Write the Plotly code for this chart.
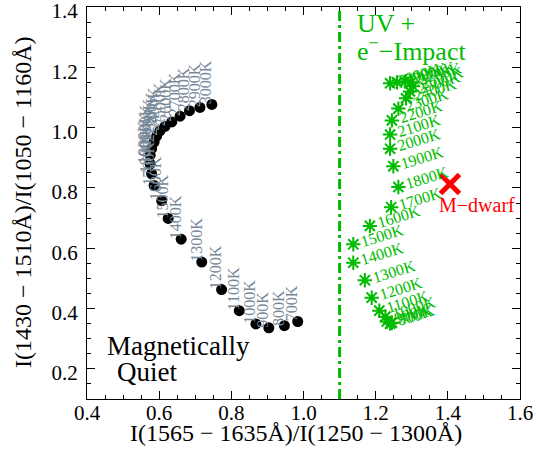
import plotly.graph_objects as go

# ---------------- data ----------------
temps = [700, 800, 900, 1000, 1100, 1200, 1300, 1400, 1500, 1600, 1700, 1800,
         1900, 2000, 2100, 2200, 2300, 2400, 2500, 2600, 2700, 2800, 2900, 3000]
temp_labels = [f"{t}K" for t in temps]

quiet_x = [0.984, 0.947, 0.904, 0.868, 0.822, 0.773, 0.718, 0.661, 0.625, 0.607,
           0.586, 0.579, 0.575, 0.575, 0.579, 0.586, 0.593, 0.602, 0.616, 0.635,
           0.658, 0.684, 0.713, 0.746]
quiet_y = [0.357, 0.343, 0.336, 0.349, 0.393, 0.463, 0.554, 0.630, 0.699, 0.758,
           0.808, 0.847, 0.880, 0.908, 0.930, 0.952, 0.972, 0.989, 1.004, 1.019,
           1.038, 1.056, 1.067, 1.077]

uv_x = [1.245, 1.240, 1.231, 1.227, 1.210, 1.189, 1.170, 1.138, 1.138, 1.184,
        1.243, 1.263, 1.249, 1.240, 1.240, 1.245, 1.263, 1.284, 1.295, 1.304,
        1.298, 1.281, 1.259, 1.240]
uv_y = [0.353, 0.350, 0.357, 0.373, 0.393, 0.436, 0.494, 0.552, 0.613, 0.674,
        0.736, 0.803, 0.872, 0.930, 0.977, 1.024, 1.063, 1.097, 1.120, 1.137,
        1.150, 1.153, 1.150, 1.147]

mdwarf_x = [1.406]
mdwarf_y = [0.813]
mdwarf_label = "M−dwarf"

boundary_x = 1.1
x_range = [0.4, 1.6000001]
y_range = [0.1, 1.4000001]

x_title = "I(1565 − 1635Å)/I(1250 − 1300Å)"
y_title = "I(1430 − 1510Å)/I(1050 − 1160Å)"

GREEN = "#00bb00"
GRAY = "#778899"
FONT = "Times New Roman, Liberation Serif, DejaVu Serif, serif"

fig = go.Figure()

fig.add_trace(go.Scatter(
    x=quiet_x, y=quiet_y, mode="markers",
    marker=dict(color="black", size=11, line=dict(width=0)),
    showlegend=False, hoverinfo="skip"))

fig.add_trace(go.Scatter(
    x=uv_x, y=uv_y, mode="markers",
    marker=dict(symbol="asterisk", size=12, color=GREEN,
                line=dict(color=GREEN, width=2)),
    showlegend=False, hoverinfo="skip"))

fig.add_trace(go.Scatter(
    x=mdwarf_x, y=mdwarf_y, mode="markers",
    marker=dict(symbol="x-thin", size=19, color="red",
                line=dict(color="red", width=5)),
    showlegend=False, hoverinfo="skip"))

annotations = []
# gray rotated labels (magnetically quiet)
for xv, yv, lab in zip(quiet_x, quiet_y, temp_labels):
    annotations.append(dict(
        x=xv, y=yv, xref="x", yref="y", text=lab, showarrow=False,
        textangle=-90, xanchor="center", yanchor="bottom", xshift=-6, yshift=-2,
        font=dict(family=FONT, size=16, color=GRAY)))
# green slanted labels
for xv, yv, lab in zip(uv_x, uv_y, temp_labels):
    annotations.append(dict(
        x=xv, y=yv, xref="x", yref="y", text=lab, showarrow=False,
        textangle=-17, xanchor="left", yanchor="bottom", xshift=3, yshift=-8,
        font=dict(family=FONT, size=16, color=GREEN)))

annotations += [
    dict(x=mdwarf_x[0], y=mdwarf_y[0], xref="x", yref="y", text=mdwarf_label,
         showarrow=False, xanchor="center", yanchor="middle", xshift=27, yshift=-21,
         font=dict(family=FONT, size=20, color="red")),
    dict(x=1.143, y=1.345, xref="x", yref="y", text="UV +", showarrow=False,
         xanchor="left", yanchor="middle",
         font=dict(family=FONT, size=26, color=GREEN)),
    dict(x=1.143, y=1.258, xref="x", yref="y", text="e<sup>−</sup>−Impact",
         showarrow=False, xanchor="left", yanchor="middle",
         font=dict(family=FONT, size=26, color=GREEN)),
    dict(x=0.45, y=0.275, xref="x", yref="y", text="Magnetically", showarrow=False,
         xanchor="left", yanchor="middle",
         font=dict(family=FONT, size=27, color="black")),
    dict(x=0.478, y=0.19, xref="x", yref="y", text="Quiet", showarrow=False,
         xanchor="left", yanchor="middle",
         font=dict(family=FONT, size=27, color="black")),
    dict(x=0.5, y=0, xref="paper", yref="paper", text=x_title, showarrow=False,
         xanchor="center", yanchor="middle", yshift=-34, xshift=-8,
         font=dict(family=FONT, size=24, color="black")),
    dict(x=0, y=0.5, xref="paper", yref="paper", text=y_title, showarrow=False,
         textangle=-90, xanchor="center", yanchor="middle", xshift=-64,
         font=dict(family=FONT, size=24, color="black")),
]

fig.add_shape(type="line", x0=boundary_x, x1=boundary_x, y0=0, y1=1,
              xref="x", yref="paper",
              line=dict(color=GREEN, width=3, dash="10px,4px,3px,4px"))

axis_common = dict(
    showgrid=False, zeroline=False, showline=True, linecolor="black", linewidth=1,
    mirror="ticks", ticks="inside", ticklen=8, tickwidth=1, tickcolor="black",
    tickformat=".1f", tickfont=dict(family=FONT, size=21, color="black"),
    automargin=False, ticklabeloverflow="allow",
)

fig.update_xaxes(range=x_range, dtick=0.2, tick0=0, ticklabelstandoff=-5,
                 minor=dict(dtick=0.05, ticks="inside", ticklen=4, tickcolor="black"),
                 **axis_common)
fig.update_yaxes(range=y_range, dtick=0.2, tick0=0, ticklabelstandoff=4,
                 ticklabelshift=4,
                 minor=dict(dtick=0.05, ticks="inside", ticklen=4, tickcolor="black"),
                 **axis_common)

fig.update_layout(
    width=536, height=466,
    margin=dict(l=87, r=16, t=7, b=67, autoexpand=False),
    plot_bgcolor="white", paper_bgcolor="white",
    annotations=annotations,
    font=dict(family=FONT),
)

fig.write_html("out.html", config={"displayModeBar": False},
               post_script="document.body.style.margin='0';")
